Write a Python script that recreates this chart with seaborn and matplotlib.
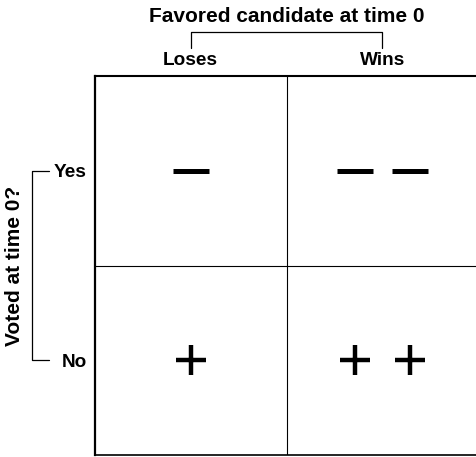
import matplotlib
matplotlib.use("Agg")
import matplotlib.pyplot as plt
import matplotlib.transforms as mtransforms
import seaborn as sns
import pandas as pd

# ---- data ----
columns = ["Loses", "Wins"]
rows = ["Yes", "No"]
col_title = "Favored candidate at time 0"
row_title = "Voted at time 0?"
cell_col = ["Loses", "Wins", "Loses", "Wins"]
cell_row = ["Yes", "Yes", "No", "No"]
cell_sign = ["−", "−", "+", "+"]
cell_count = [1, 2, 1, 2]

sns.set_theme(style="white")
plt.rcParams["font.family"] = ["Liberation Sans", "DejaVu Sans"]
plt.rcParams["font.weight"] = "bold"
plt.rcParams["text.color"] = "black"
plt.rcParams["xtick.color"] = "black"
plt.rcParams["ytick.color"] = "black"
plt.rcParams["axes.labelcolor"] = "black"

fig = plt.figure(figsize=(4.76, 4.57), dpi=100)
ax = fig.add_axes([95 / 476, 2 / 457, 383 / 476, 379 / 457])

# expand cells to individual symbols
spacing = 0.143
pts = []
for c, r, s, n in zip(cell_col, cell_row, cell_sign, cell_count):
    cx = columns.index(c) + 0.5
    cy = rows.index(r) + 0.5
    offs = [0.0] if n == 1 else [-spacing, spacing]
    for o in offs:
        pts.append({"x": cx + o, "y": cy, "sign": s})
df = pd.DataFrame(pts)

minus = df[df["sign"] == "−"]
plus = df[df["sign"] == "+"]
sns.scatterplot(data=minus, x="x", y="y", marker="_", s=26 ** 2, color="black",
                linewidth=3.6, legend=False, ax=ax)
sns.scatterplot(data=plus, x="x", y="y", marker="+", s=21 ** 2, color="black",
                linewidth=3.2, legend=False, ax=ax)

ax.set_xlim(0, 2)
ax.set_ylim(2, 0)
ax.set_xlabel("")
ax.set_ylabel("")

# internal grid lines
ax.axvline(1, color="black", lw=0.8)
ax.axhline(1, color="black", lw=0.8)

# spines
for side in ["left", "top", "bottom"]:
    ax.spines[side].set_visible(True)
    ax.spines[side].set_color("black")
ax.spines["left"].set_linewidth(1.6)
ax.spines["top"].set_linewidth(1.5)
ax.spines["bottom"].set_linewidth(1.2)
ax.spines["right"].set_visible(False)

# tick labels
ax.xaxis.tick_top()
ax.set_xticks([i + 0.5 for i in range(len(columns))])
ax.set_xticklabels(columns, fontsize=13.7, fontweight="bold", color="black")
ax.set_yticks([i + 0.5 for i in range(len(rows))])
ax.set_yticklabels(rows, fontsize=13.7, fontweight="bold", color="black")
ax.tick_params(axis="x", length=0, pad=5)
ax.tick_params(axis="y", length=0, pad=6)

# top bracket
tx = mtransforms.blended_transform_factory(ax.transData, ax.transAxes)
y_top = 1 + 44 / 379
y_tick = 1 + 28 / 379
ax.plot([0.5, 0.5, 1.5, 1.5], [y_tick, y_top, y_top, y_tick], color="black",
        lw=0.9, transform=tx, clip_on=False)
ax.text(1.0, 1 + 59 / 379, col_title, transform=tx, ha="center", va="center",
        fontsize=15, fontweight="bold", color="black")

# left bracket
ty = mtransforms.blended_transform_factory(ax.transAxes, ax.transData)
x_line = (32 - 95) / 383
x_tick = (49 - 95) / 383
ax.plot([x_tick, x_line, x_line, x_tick], [0.5, 0.5, 1.5, 1.5], color="black",
        lw=0.9, transform=ty, clip_on=False)
ax.text((15 - 95) / 383, 1.0, row_title, transform=ty, ha="center", va="center",
        rotation=90, fontsize=15, fontweight="bold", color="black")

fig.savefig("out.png", dpi=100)
